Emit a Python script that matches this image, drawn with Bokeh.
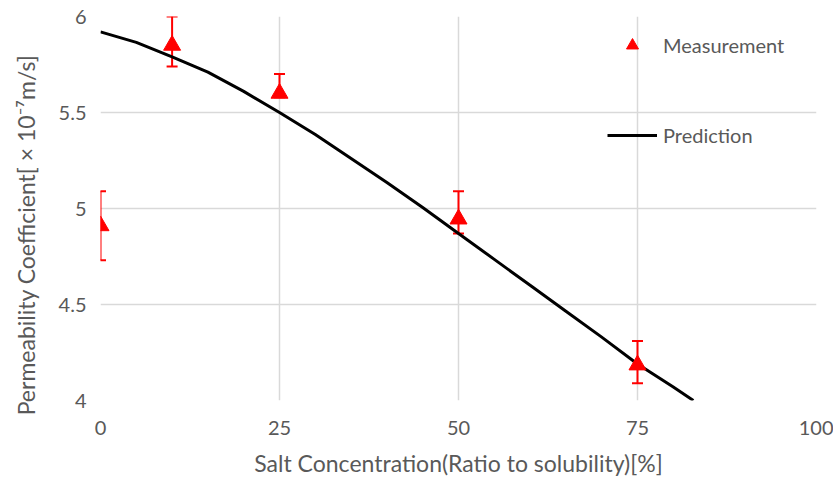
from bokeh.plotting import figure
from bokeh.models import Whisker, ColumnDataSource, Legend, LegendItem, Range1d, FixedTicker
from bokeh.embed import file_html
from bokeh.resources import INLINE

# Measurement data
meas_x = [0, 10, 25, 50, 75]
meas_y = [4.91, 5.85, 5.60, 4.945, 4.185]
meas_upper = [5.09, 6.00, 5.70, 5.09, 4.31]
meas_lower = [4.73, 5.74, 5.58, 4.87, 4.09]

# Prediction curve
pred_x = [0, 5, 10, 15, 20, 25, 30, 35, 40, 45, 50, 55, 60, 65, 70, 75, 80, 82.8]
pred_y = [5.92, 5.865, 5.79, 5.71, 5.61, 5.50, 5.385, 5.26, 5.135, 5.005, 4.87,
          4.735, 4.60, 4.465, 4.33, 4.19, 4.07, 4.0]

x_ticks = [0, 25, 50, 75, 100]
y_ticks = [4, 4.5, 5, 5.5, 6]

FONT = "Lato"
TXT = "#595959"
GRID = "#d9d9d9"

p = figure(width=833, height=479, output_backend="svg", toolbar_location=None,
           x_range=Range1d(0, 100), y_range=Range1d(4, 6),
           min_border_left=100, min_border_right=17, min_border_top=16, min_border_bottom=78)
p.outline_line_color = None
p.background_fill_color = "white"
p.border_fill_color = "white"

for ax in (p.xaxis[0], p.yaxis[0]):
    ax.axis_line_color = None
    ax.major_tick_line_color = None
    ax.minor_tick_line_color = None
    ax.major_tick_out = 0
    ax.major_tick_in = 0
    ax.minor_tick_out = 0
    ax.major_label_text_font = FONT
    ax.major_label_text_color = TXT
    ax.major_label_text_font_size = "20px"
    ax.axis_label_text_font = FONT
    ax.axis_label_text_color = TXT
    ax.axis_label_text_font_style = "normal"
    ax.axis_label_text_font_size = "23px"

p.xaxis[0].ticker = FixedTicker(ticks=x_ticks)
p.yaxis[0].ticker = FixedTicker(ticks=y_ticks)
p.xaxis[0].major_label_overrides = {t: str(t) for t in x_ticks}
p.yaxis[0].major_label_overrides = {4: "4", 4.5: "4.5", 5: "5", 5.5: "5.5", 6: "6"}
p.xaxis[0].axis_label = "Salt Concentration(Ratio to solubility)[%]"
p.yaxis[0].axis_label = "Permeability Coefficient[ × 10⁻⁷m/s]" + "\u00a0" * 9
p.xaxis[0].major_label_standoff = 20
p.xaxis[0].axis_label_standoff = 11
p.yaxis[0].major_label_standoff = 14
p.yaxis[0].axis_label_standoff = 16

p.xgrid.grid_line_color = GRID
p.ygrid.grid_line_color = GRID
p.xgrid.grid_line_width = 1.5
p.ygrid.grid_line_width = 1.5

line_r = p.line(pred_x, pred_y, line_color="black", line_width=3)

src = ColumnDataSource(dict(x=meas_x, y=meas_y, upper=meas_upper, lower=meas_lower))
w = Whisker(source=src, base="x", upper="upper", lower="lower",
            line_color="red", line_width=2)
w.upper_head.line_color = "red"
w.lower_head.line_color = "red"
w.upper_head.line_width = 2
w.lower_head.line_width = 2
w.upper_head.size = 11
w.lower_head.size = 11
p.add_layout(w)

tri_r = p.scatter("x", "y", source=src, marker="triangle", size=17,
                  fill_color="red", line_color="red")

legend = Legend(items=[LegendItem(label="Measurement", renderers=[tri_r]),
                       LegendItem(label="Prediction", renderers=[line_r])],
                location=(507, 250), orientation="vertical",
                border_line_color=None, background_fill_alpha=0,
                padding=0, margin=0, spacing=60,
                glyph_width=50, glyph_height=30, label_height=30,
                label_standoff=6, label_text_font=FONT,
                label_text_color=TXT, label_text_font_size="20px")
p.add_layout(legend)

open("out.html", "w").write(file_html(p, INLINE))
